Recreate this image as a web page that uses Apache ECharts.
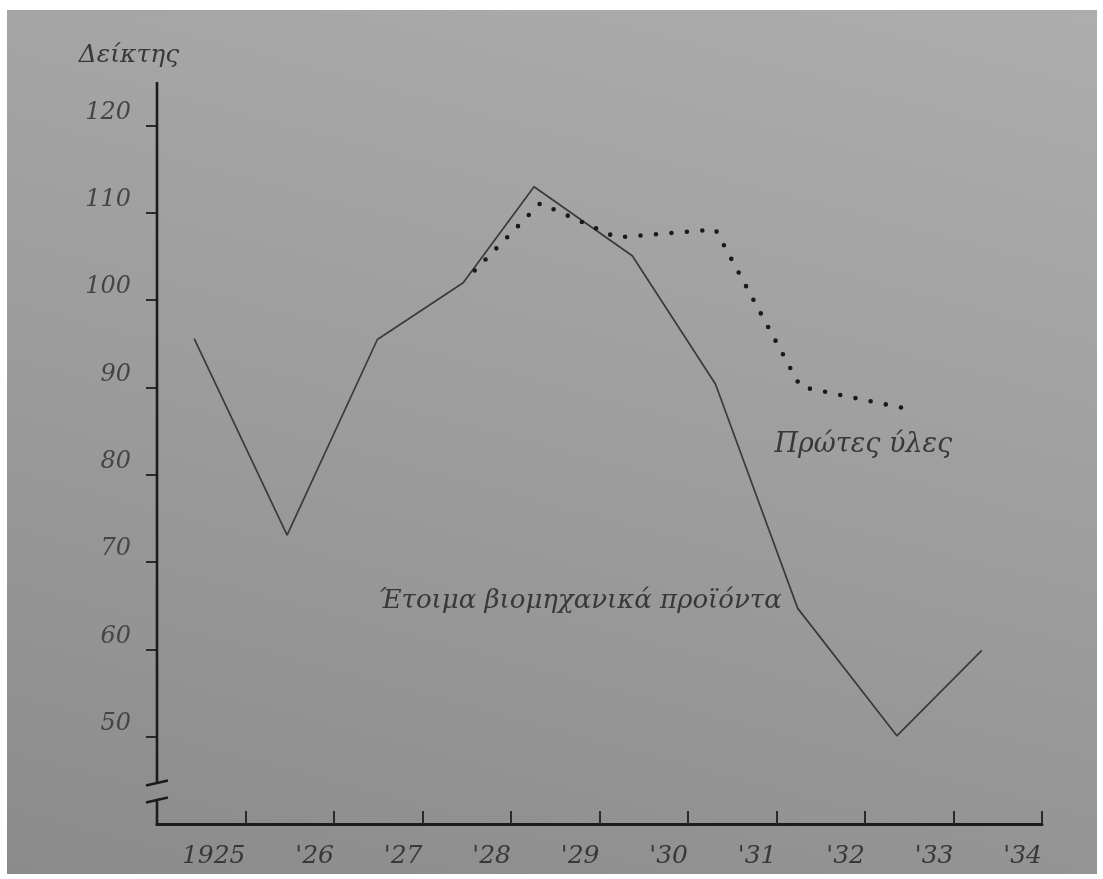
<!DOCTYPE html>
<html>
<head>
<meta charset="utf-8">
<script src="https://cdn.jsdelivr.net/npm/echarts@6/dist/echarts.min.js"></script>
<style>
  html, body { margin: 0; padding: 0; background: #ffffff; }
  #bg { position: absolute; left: 7px; top: 10px; width: 1090px; height: 864px;
        background: linear-gradient(195deg, #adadad 0%, #9d9d9d 50%, #8b8b8b 100%); }
  #chart { position: absolute; left: 0; top: 0; width: 1103px; height: 879px; }
</style>
</head>
<body>
<div id="bg"></div>
<div id="chart"></div>
<script>
// ---- data ----
const yAxisTitle = 'Δείκτης';
const xTickLabels = ['1925', "'26", "'27", "'28", "'29", "'30", "'31", "'32", "'33", "'34"];
const yTickValues = [50, 60, 70, 80, 90, 100, 110, 120];

const finishedName = 'Έτοιμα βιομηχανικά προϊόντα';
const finishedYears = [1925.42, 1926.47, 1927.49, 1928.46, 1929.26, 1930.37, 1931.31, 1932.24, 1933.36, 1934.32];
const finishedValues = [95.6, 73.1, 95.5, 102.0, 113.0, 105.1, 90.4, 64.7, 50.1, 59.9];

const rawName = 'Πρώτες ύλες';
const rawYears = [1928.59, 1929.33, 1930.19, 1931.31, 1932.27, 1933.41];
const rawValues = [103.4, 111.1, 107.2, 108.1, 90.1, 87.7];

const yBreak = [44.7, 42.75];

// ---- build ----
const FONT = 'DejaVu Serif';
const TEXT = '#383838';

function pairs(xs, ys) { return xs.map((x, i) => [x, ys[i]]); }

const finishedData = pairs(finishedYears, finishedValues).map((p, i) => {
  if (i === 7) {
    return { value: p, label: { show: true, position: 'left', distance: 16, offset: [0, -7],
      formatter: finishedName, fontFamily: FONT, fontStyle: 'italic', fontSize: 26, color: TEXT } };
  }
  return p;
});
const rawData = pairs(rawYears, rawValues).map((p, i) => {
  if (i === rawYears.length - 1) {
    return { value: p, label: { show: true, position: 'bottom', distance: 22, offset: [-38, 2],
      formatter: rawName, fontFamily: FONT, fontStyle: 'italic', fontSize: 27, color: TEXT } };
  }
  return p;
});

const chart = echarts.init(document.getElementById('chart'), null, { renderer: 'canvas' });
const option = {
  backgroundColor: 'transparent',
  animation: false,
  grid: { left: 157, right: 61, top: 82, bottom: 55, containLabel: false },
  xAxis: {
    type: 'value', min: 1925, max: 1935, interval: 1,
    splitLine: { show: false },
    axisLine: { show: true, lineStyle: { color: '#1c1c1c', width: 3 } },
    axisTick: { show: true, inside: true, length: 13, lineStyle: { color: '#2a2a2a', width: 2 } },
    axisLabel: {
      show: true, margin: 20, align: 'right', verticalAlign: 'top',
      fontFamily: FONT, fontStyle: 'italic', fontSize: 25, color: TEXT,
      formatter: function (v) { const i = Math.round(v) - 1926; return (i >= 0 && i < xTickLabels.length) ? xTickLabels[i] : ''; }
    }
  },
  yAxis: {
    type: 'value', min: 40, max: 125, interval: 10,
    name: yAxisTitle, nameLocation: 'end', nameGap: 14,
    nameTextStyle: { fontFamily: FONT, fontStyle: 'italic', fontSize: 25, color: TEXT, align: 'center', padding: [0, 56, 0, 0] },
    splitLine: { show: false },
    axisLine: { show: false },
    axisTick: { show: true, length: 11, customValues: yTickValues, lineStyle: { color: '#2a2a2a', width: 2 } },
    axisLabel: {
      show: true, margin: 26, customValues: yTickValues, verticalAlign: 'bottom', lineHeight: 26,
      fontFamily: FONT, fontStyle: 'italic', fontSize: 24, color: '#444444',
      formatter: function (v) { return v >= 50 ? String(v) : ''; }
    }
  },
  series: [
    {
      name: finishedName, type: 'line', data: finishedData,
      showSymbol: true, symbol: 'circle', symbolSize: 0.1,
      itemStyle: { color: 'rgba(0,0,0,0)' },
      lineStyle: { color: '#3a3a3a', width: 1.7 },
      emphasis: { disabled: true }, silent: true, z: 3
    },
    {
      name: rawName, type: 'line', data: rawData,
      showSymbol: true, symbol: 'circle', symbolSize: 0.1,
      itemStyle: { color: 'rgba(0,0,0,0)' },
      lineStyle: { color: '#1a1a1a', width: 4.6, type: [0, 15.5], cap: 'round' },
      emphasis: { disabled: true }, silent: true, z: 4
    }
  ]
};
chart.setOption(option);

// y-axis line with break marks, positioned through the chart's own scale
const pTop = chart.convertToPixel({ gridIndex: 0 }, [1925, 125]);
const pB1 = chart.convertToPixel({ gridIndex: 0 }, [1925, yBreak[0]]);
const pB2 = chart.convertToPixel({ gridIndex: 0 }, [1925, yBreak[1]]);
const pBot = chart.convertToPixel({ gridIndex: 0 }, [1925, 40]);
const ax = pTop[0];
const axisStyle = { stroke: '#1c1c1c', lineWidth: 2.6 };
chart.setOption({
  graphic: [
    { type: 'line', shape: { x1: ax, y1: pTop[1], x2: ax, y2: pB1[1] }, style: axisStyle, z: 10 },
    { type: 'line', shape: { x1: ax, y1: pB2[1], x2: ax, y2: pBot[1] + 1.5 }, style: axisStyle, z: 10 },
    { type: 'line', shape: { x1: ax - 11, y1: pB1[1] + 2.5, x2: ax + 11, y2: pB1[1] - 2.5 }, style: axisStyle, z: 10 },
    { type: 'line', shape: { x1: ax - 11, y1: pB2[1] + 2.5, x2: ax + 11, y2: pB2[1] - 2.5 }, style: axisStyle, z: 10 }
  ]
});
</script>
</body>
</html>
